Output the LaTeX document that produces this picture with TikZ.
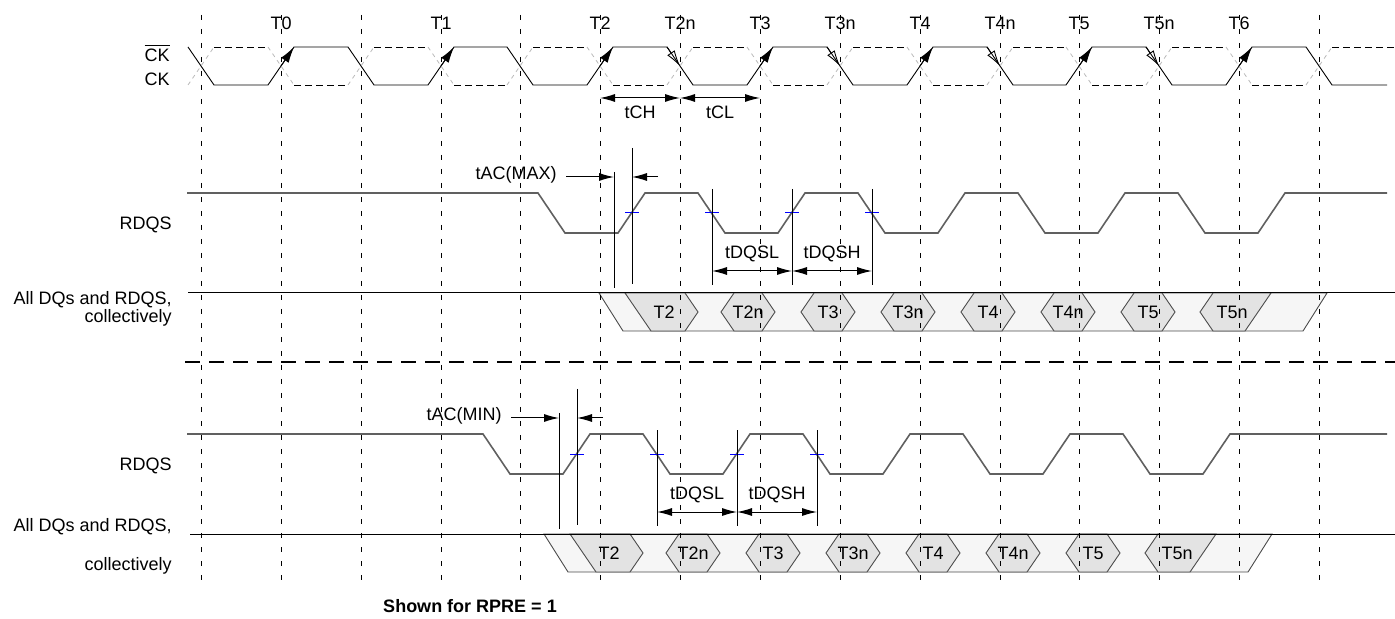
\documentclass[tikz,border=0pt]{standalone}
\usepackage{fontspec}
\setmainfont{Liberation Sans}
\usetikzlibrary{arrows.meta}

\begin{document}
\begin{tikzpicture}[x=0.5pt,y=-0.5pt]
        \tikzstyle{grid_style} = [black, line width=0.5pt, dash pattern=on 2.5pt off 4.5pt]
        \tikzstyle{label_style} = [font=\fontsize{9}{10}\selectfont, inner sep=0pt]
        \tikzstyle{ck_style} = [black, line width=0.45pt]
        \tikzstyle{ckn_style} = [black, line width=0.45pt, dash pattern=on 3.5pt off 2pt]
        \tikzstyle{ckx_style} = [gray!55, line width=0.4pt, dash pattern=on 2pt off 2pt]
        \tikzstyle{dqs_style} = [gray!75!black, line width=0.8pt]
        \tikzstyle{marker_style} = [blue, line width=0.5pt]
        \tikzstyle{dim_style} = [black, line width=0.5pt]
        \tikzstyle{arrow_style1} = [<->, black, line width=0.5pt, >={Latex[length=7.5pt,width=4pt]}]
        \tikzstyle{arrow_style2} = [->, black, line width=0.5pt, >={Latex[length=7.5pt,width=4pt]}]
        \tikzstyle{edge_style1} = [-{Latex[length=8pt,width=4.5pt]}, black, line width=0.45pt]
        \tikzstyle{edge_style2} = [-{Latex[open,length=8pt,width=4.5pt]}, black, line width=0.45pt]
        \tikzstyle{bus_style} = [draw=gray!60!black, fill=gray!7, line width=0.45pt]
        \tikzstyle{data_style} = [draw=gray!60!black, fill=gray!22, line width=0.45pt]

        \useasboundingbox (0,0) rectangle (1395,619);

        % Clock at the top
        \node[label_style] (t0) at (281,23) {T0};
        \node[label_style] (t1) at (441,23) {T1};
        \node[label_style] (t2) at (600,23) {T2};
        \node[label_style] (t2n) at (680,23) {T2n};
        \node[label_style] (t3) at (760,23) {T3};
        \node[label_style] (t3n) at (840,23) {T3n};
        \node[label_style] (t4) at (920,23) {T4};
        \node[label_style] (t4n) at (1000,23) {T4n};
        \node[label_style] (t5) at (1079,23) {T5};
        \node[label_style] (t5n) at (1159,23) {T5n};
        \node[label_style] (t6) at (1239,23) {T6};

        \node[label_style, anchor=east] (ckn) at (170,53) {$\overline{\mbox{CK}}$};
        \node[label_style, anchor=east] (ck) at (170,79) {CK};

        % CK# edges faint, levels dashed
        \draw[ckx_style] (188,85) -- (214,47) (268,47) -- (294,85) (348,85) -- (374,47) (428,47) -- (454,85) (507,85) -- (533,47) (587,47) -- (613,85) (667,85) -- (693,47) (747,47) -- (773,85) (827,85) -- (853,47) (907,47) -- (933,85) (987,85) -- (1013,47) (1066,47) -- (1092,85) (1146,85) -- (1172,47) (1226,47) -- (1252,85) (1306,85) -- (1332,47);
        \draw[ckn_style] (214,47) -- (268,47) (294,85) -- (348,85) (374,47) -- (428,47) (454,85) -- (507,85) (533,47) -- (587,47) (613,85) -- (667,85) (693,47) -- (747,47) (773,85) -- (827,85) (853,47) -- (907,47) (933,85) -- (987,85) (1013,47) -- (1066,47) (1092,85) -- (1146,85) (1172,47) -- (1226,47) (1252,85) -- (1306,85) (1332,47) -- (1395,47);
        \draw[ck_style] (188,47) -- (214,85) -- (268,85) -- (294,47) -- (348,47) -- (374,85) -- (428,85) -- (454,47) -- (507,47) -- (533,85) -- (587,85) -- (613,47) -- (667,47) -- (693,85) -- (747,85) -- (773,47) -- (827,47) -- (853,85) -- (907,85) -- (933,47) -- (987,47) -- (1013,85) -- (1066,85) -- (1092,47) -- (1146,47) -- (1172,85) -- (1226,85) -- (1252,47) -- (1306,47) -- (1332,85) -- (1387,85);

        \draw[edge_style1] (281,66) -- (294,47);
        \draw[edge_style1] (441,66) -- (454,47);
        \draw[edge_style1] (600,66) -- (613,47);
        \draw[edge_style1] (760,66) -- (773,47);
        \draw[edge_style1] (920,66) -- (933,47);
        \draw[edge_style1] (1079,66) -- (1092,47);
        \draw[edge_style1] (1239,66) -- (1252,47);
        \draw[edge_style2] (667,47) -- (680,66);
        \draw[edge_style2] (827,47) -- (840,66);
        \draw[edge_style2] (987,47) -- (1000,66);
        \draw[edge_style2] (1146,47) -- (1159,66);

        \coordinate (ch1) at (600,98);
        \coordinate (ch2) at (680,98);
        \coordinate (cl2) at (760,98);
        \draw[arrow_style1] (ch1) -- (ch2);
        \draw[arrow_style1] (ch2) -- (cl2);
        \node[label_style] (tch) at (640,112) {tCH};
        \node[label_style] (tcl) at (720,112) {tCL};

        % Then RDQS with tAC(MAX)
        \node[label_style, anchor=east] (rdqs1) at (172,225) {RDQS};
        \draw[dqs_style] (187,193) -- (538,193) -- (565,233) -- (618,233) -- (645,193) -- (698,193) -- (725,233) -- (778,233) -- (805,193) -- (858,193) -- (885,233) -- (938,233) -- (965,193) -- (1018,193) -- (1045,233) -- (1098,233) -- (1125,193) -- (1178,193) -- (1205,233) -- (1258,233) -- (1285,193) -- (1387,193);
        \draw[marker_style] (625,213) -- (639,213);
        \draw[marker_style] (705,213) -- (719,213);
        \draw[marker_style] (785,213) -- (799,213);
        \draw[marker_style] (865,213) -- (879,213);

        \draw[dim_style] (614,172) -- (614,288);
        \draw[dim_style] (632,148) -- (632,284);
        \draw[dim_style] (712,189) -- (712,285);
        \draw[dim_style] (792,189) -- (792,285);
        \draw[dim_style] (872,189) -- (872,285);

        \coordinate (acmax1) at (566,177);
        \coordinate (acmax2) at (614,177);
        \coordinate (acmax3) at (658,177);
        \coordinate (acmax4) at (632,177);
        \draw[arrow_style2] (acmax1) -- (acmax2);
        \draw[arrow_style2] (acmax3) -- (acmax4);
        \node[label_style, anchor=east] (tacmax) at (557,175) {tAC(MAX)};

        \coordinate (dqs11) at (712,271);
        \coordinate (dqs12) at (792,271);
        \coordinate (dqs13) at (872,271);
        \draw[arrow_style1] (dqs11) -- (dqs12);
        \draw[arrow_style1] (dqs12) -- (dqs13);
        \node[label_style] (tdqsl1) at (752,254) {tDQSL};
        \node[label_style] (tdqsh1) at (832,254) {tDQSH};

        % Data bus for tAC(MAX)
        \node[label_style, anchor=east] (bus11) at (172,300) {All DQs and RDQS,};
        \node[label_style, anchor=east] (bus12) at (172,318) {collectively};
        \draw[bus_style] (599,293) -- (623,331) -- (1303,331) -- (1327,293) -- cycle;
        \draw[data_style] (625,293) -- (651,331) -- (685,331) -- (698,312) -- (685,293) -- cycle;
        \draw[data_style] (721,312) -- (734,293) -- (762,293) -- (775,312) -- (762,331) -- (734,331) -- cycle;
        \draw[data_style] (801,312) -- (814,293) -- (842,293) -- (855,312) -- (842,331) -- (814,331) -- cycle;
        \draw[data_style] (881,312) -- (894,293) -- (922,293) -- (935,312) -- (922,331) -- (894,331) -- cycle;
        \draw[data_style] (961,312) -- (974,293) -- (1002,293) -- (1015,312) -- (1002,331) -- (974,331) -- cycle;
        \draw[data_style] (1041,312) -- (1054,293) -- (1082,293) -- (1095,312) -- (1082,331) -- (1054,331) -- cycle;
        \draw[data_style] (1121,312) -- (1134,293) -- (1162,293) -- (1175,312) -- (1162,331) -- (1134,331) -- cycle;
        \draw[data_style] (1200,312) -- (1213,293) -- (1271,293) -- (1245,331) -- (1213,331) -- cycle;
        \draw[black, line width=0.5pt] (188,293) -- (1395,293);
        \node[label_style] (d12) at (664,312) {T2};
        \node[label_style] (d12n) at (748,312) {T2n};
        \node[label_style] (d13) at (828,312) {T3};
        \node[label_style] (d13n) at (908,312) {T3n};
        \node[label_style] (d14) at (988,312) {T4};
        \node[label_style] (d14n) at (1068,312) {T4n};
        \node[label_style] (d15) at (1148,312) {T5};
        \node[label_style] (d15n) at (1232,312) {T5n};

        \draw[black, line width=1pt, dash pattern=on 7.5pt off 4.5pt] (185,362) -- (1395,362);

        % Then RDQS with tAC(MIN) at the bottom
        \node[label_style, anchor=east] (rdqs2) at (172,466) {RDQS};
        \draw[dqs_style] (187,434) -- (483,434) -- (510,474) -- (563,474) -- (590,434) -- (643,434) -- (670,474) -- (723,474) -- (750,434) -- (803,434) -- (830,474) -- (883,474) -- (910,434) -- (963,434) -- (990,474) -- (1043,474) -- (1070,434) -- (1123,434) -- (1150,474) -- (1203,474) -- (1230,434) -- (1387,434);
        \draw[marker_style] (570,454) -- (584,454);
        \draw[marker_style] (650,454) -- (664,454);
        \draw[marker_style] (730,454) -- (744,454);
        \draw[marker_style] (810,454) -- (824,454);

        \draw[dim_style] (559,413) -- (559,529);
        \draw[dim_style] (577,389) -- (577,525);
        \draw[dim_style] (657,430) -- (657,526);
        \draw[dim_style] (737,430) -- (737,526);
        \draw[dim_style] (817,430) -- (817,526);

        \coordinate (acmin1) at (511,418);
        \coordinate (acmin2) at (559,418);
        \coordinate (acmin3) at (603,418);
        \coordinate (acmin4) at (577,418);
        \draw[arrow_style2] (acmin1) -- (acmin2);
        \draw[arrow_style2] (acmin3) -- (acmin4);
        \node[label_style, anchor=east] (tacmin) at (502,416) {tAC(MIN)};

        \coordinate (dqs21) at (657,512);
        \coordinate (dqs22) at (737,512);
        \coordinate (dqs23) at (817,512);
        \draw[arrow_style1] (dqs21) -- (dqs22);
        \draw[arrow_style1] (dqs22) -- (dqs23);
        \node[label_style] (tdqsl2) at (697,495) {tDQSL};
        \node[label_style] (tdqsh2) at (777,495) {tDQSH};

        % Data bus for tAC(MIN)
        \node[label_style, anchor=east] (bus21) at (172,527) {All DQs and RDQS,};
        \node[label_style, anchor=east] (bus22) at (172,566) {collectively};
        \draw[bus_style] (544,534) -- (568,572) -- (1248,572) -- (1272,534) -- cycle;
        \draw[data_style] (570,534) -- (596,572) -- (630,572) -- (643,553) -- (630,534) -- cycle;
        \draw[data_style] (666,553) -- (679,534) -- (707,534) -- (720,553) -- (707,572) -- (679,572) -- cycle;
        \draw[data_style] (746,553) -- (759,534) -- (787,534) -- (800,553) -- (787,572) -- (759,572) -- cycle;
        \draw[data_style] (826,553) -- (839,534) -- (867,534) -- (880,553) -- (867,572) -- (839,572) -- cycle;
        \draw[data_style] (906,553) -- (919,534) -- (947,534) -- (960,553) -- (947,572) -- (919,572) -- cycle;
        \draw[data_style] (986,553) -- (999,534) -- (1027,534) -- (1040,553) -- (1027,572) -- (999,572) -- cycle;
        \draw[data_style] (1066,553) -- (1079,534) -- (1107,534) -- (1120,553) -- (1107,572) -- (1079,572) -- cycle;
        \draw[data_style] (1145,553) -- (1158,534) -- (1216,534) -- (1190,572) -- (1158,572) -- cycle;
        \draw[black, line width=0.5pt] (190,534) -- (1395,534);
        \node[label_style] (d22) at (609,553) {T2};
        \node[label_style] (d22n) at (693,553) {T2n};
        \node[label_style] (d23) at (773,553) {T3};
        \node[label_style] (d23n) at (853,553) {T3n};
        \node[label_style] (d24) at (933,553) {T4};
        \node[label_style] (d24n) at (1013,553) {T4n};
        \node[label_style] (d25) at (1093,553) {T5};
        \node[label_style] (d25n) at (1177,553) {T5n};

        \node[label_style] (rpre) at (470,606) {\bfseries Shown for RPRE = 1};

        % Clock edge grid over everything
        \draw[grid_style] (201,15) -- (201,585);
        \draw[grid_style] (281,15) -- (281,585);
        \draw[grid_style] (361,15) -- (361,585);
        \draw[grid_style] (441,15) -- (441,585);
        \draw[grid_style] (520,15) -- (520,585);
        \draw[grid_style] (600,15) -- (600,585);
        \draw[grid_style] (680,15) -- (680,585);
        \draw[grid_style] (760,15) -- (760,585);
        \draw[grid_style] (840,15) -- (840,585);
        \draw[grid_style] (920,15) -- (920,585);
        \draw[grid_style] (1000,15) -- (1000,585);
        \draw[grid_style] (1079,15) -- (1079,585);
        \draw[grid_style] (1159,15) -- (1159,585);
        \draw[grid_style] (1239,15) -- (1239,585);
        \draw[grid_style] (1319,15) -- (1319,585);
    \end{tikzpicture}
\end{document}
